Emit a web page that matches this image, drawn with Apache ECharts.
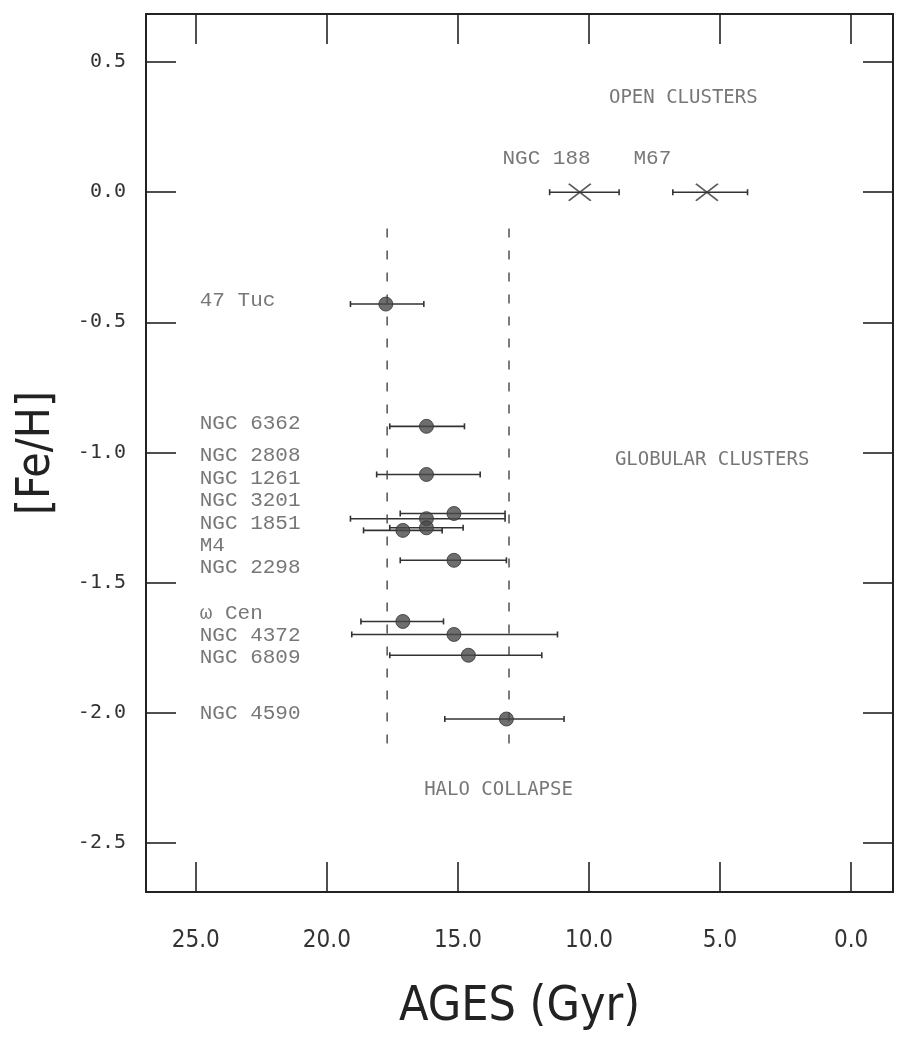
<!DOCTYPE html>
<html>
<head>
<meta charset="utf-8">
<script src="https://cdn.jsdelivr.net/npm/echarts@6/dist/echarts.min.js"></script>
<style>
  html, body { margin: 0; padding: 0; background: #fff; }
  #chart { width: 897px; height: 1049px; }
</style>
</head>
<body>
<div id="chart"></div>
<script>
// globular clusters: label, age (Gyr), [Fe/H], error bar ends
const gcNames = ['47 Tuc', 'NGC 6362', 'NGC 2808', 'NGC 1261', 'NGC 3201', 'NGC 1851', 'M4', 'NGC 2298', 'ω Cen', 'NGC 4372', 'NGC 6809', 'NGC 4590']
const gcNameY = [-0.415, -0.888, -1.012, -1.100, -1.185, -1.273, -1.358, -1.442, -1.619, -1.704, -1.788, -2.004]
const gcAge = [17.75, 16.2, 16.2, 15.15, 16.2, 16.2, 17.1, 15.15, 17.1, 15.15, 14.6, 13.15]
const gcFeH = [-0.43, -0.90, -1.085, -1.235, -1.255, -1.29, -1.30, -1.415, -1.65, -1.70, -1.78, -2.025]
const gcErrOld = [19.1, 17.6, 18.1, 17.2, 19.1, 17.6, 18.6, 17.2, 18.7, 19.05, 17.6, 15.5]
const gcErrYoung = [16.3, 14.75, 14.15, 13.2, 13.2, 14.8, 15.6, 13.15, 15.55, 11.2, 11.8, 10.95]

// open clusters
const ocNames = ['NGC 188', 'M67']
const ocAge = [10.35, 5.5]
const ocFeH = [0.0, 0.0]
const ocErrOld = [11.5, 6.8]
const ocErrYoung = [8.85, 3.95]
const ocNamePos = [[13.3, 0.13], [8.3, 0.13]]

// halo collapse band (dashed lines)
const haloAges = [17.7, 13.05]
const haloFeH = [-0.14, -2.15]

// region captions
const captions = ['OPEN CLUSTERS', 'GLOBULAR CLUSTERS', 'HALO COLLAPSE']
const captionPos = [[6.4, 0.36], [5.3, -1.03], [13.45, -2.3]]

// tick labels
const xTicks = [0, 5, 10, 15, 20, 25]
const yTicks = [0.5, 0.0, -0.5, -1.0, -1.5, -2.0, -2.5]

const ink = '#333'
const textGrey = '#555'
const tickFont = '"Liberation Sans Narrow", "DejaVu Sans Condensed", sans-serif'
const monoFont = '"Liberation Mono", "DejaVu Sans Mono", monospace'
const plotterFont = '"DejaVu Sans Mono", monospace'

const chart = echarts.init(document.getElementById('chart'))

// horizontal error bar with end caps
const errorBar = (params, api) => {
    const y = api.value(2)
    const a = api.coord([api.value(0), y])
    const b = api.coord([api.value(1), y])
    const style = { stroke: ink, lineWidth: 1.6 }
    return {
        type: 'group',
        children: [
            { type: 'line', shape: { x1: a[0], y1: a[1], x2: b[0], y2: b[1] }, style },
            { type: 'line', shape: { x1: a[0], y1: a[1] - 3, x2: a[0], y2: a[1] + 3 }, style },
            { type: 'line', shape: { x1: b[0], y1: b[1] - 3, x2: b[0], y2: b[1] + 3 }, style },
        ],
    }
}

const frameLine = { show: true, onZero: false, lineStyle: { color: '#222', width: 2 } }
const frameTick = vals => ({ inside: true, length: 30, customValues: vals, lineStyle: { color: '#222', width: 1.6 } })

const textSeries = (data, font, size, align) => ({
    type: 'scatter',
    symbolSize: 0,
    silent: true,
    data,
    label: {
        show: true,
        position: align === 'left' ? 'right' : 'inside',
        distance: 0,
        formatter: p => p.name,
        color: textGrey,
        fontFamily: font,
        fontSize: size,
        align: align,
        verticalAlign: 'middle',
    },
    z: 5,
})

chart.setOption({
    animation: false,
    grid: { left: 146, right: 4, top: 14, bottom: 157 },
    xAxis: [
        {
            type: 'value',
            position: 'bottom',
            inverse: true,
            min: -1.6,
            max: 26.9,
            name: 'AGES (Gyr)',
            nameLocation: 'middle',
            nameGap: 92,
            nameTextStyle: { fontFamily: tickFont, fontSize: 48, color: '#222' },
            axisLine: frameLine,
            axisTick: frameTick(xTicks),
            splitLine: { show: false },
            axisLabel: {
                customValues: xTicks,
                margin: 37,
                formatter: v => v.toFixed(1),
                fontFamily: tickFont,
                fontSize: 24,
                color: ink,
            },
        },
        {
            type: 'value',
            position: 'top',
            inverse: true,
            min: -1.6,
            max: 26.9,
            axisLine: frameLine,
            axisTick: frameTick(xTicks),
            splitLine: { show: false },
            axisLabel: { show: false },
        },
    ],
    yAxis: [
        {
            type: 'value',
            position: 'left',
            min: -2.69,
            max: 0.685,
            name: '[Fe/H]',
            nameLocation: 'middle',
            nameGap: 86,
            nameRotate: 90,
            nameTextStyle: { fontFamily: tickFont, fontSize: 46, color: '#222' },
            axisLine: frameLine,
            axisTick: frameTick(yTicks),
            splitLine: { show: false },
            axisLabel: {
                customValues: yTicks,
                margin: 20,
                formatter: v => v.toFixed(1),
                fontFamily: plotterFont,
                fontSize: 20,
                color: ink,
            },
        },
        {
            type: 'value',
            position: 'right',
            min: -2.69,
            max: 0.685,
            axisLine: frameLine,
            axisTick: frameTick(yTicks),
            splitLine: { show: false },
            axisLabel: { show: false },
        },
    ],
    series: [
        // halo collapse dashed lines
        ...haloAges.map(a => ({
            type: 'line',
            data: haloFeH.map(f => [a, f]),
            symbol: 'none',
            silent: true,
            lineStyle: { color: '#444', width: 1.4, type: [9, 13] },
        })),
        {
            type: 'custom',
            renderItem: errorBar,
            data: gcAge.map((_, i) => [gcErrOld[i], gcErrYoung[i], gcFeH[i]]),
            z: 3,
        },
        {
            type: 'custom',
            renderItem: errorBar,
            data: ocAge.map((_, i) => [ocErrOld[i], ocErrYoung[i], ocFeH[i]]),
            z: 3,
        },
        {
            type: 'scatter',
            data: gcAge.map((a, i) => [a, gcFeH[i]]),
            symbol: 'circle',
            symbolSize: 14,
            itemStyle: { color: '#4a4a4a', borderColor: '#333', borderWidth: 1 },
            z: 4,
        },
        {
            type: 'scatter',
            data: ocAge.map((a, i) => [a, ocFeH[i]]),
            symbol: 'path://M0,0L20,16M20,0L0,16',
            symbolSize: [22, 17],
            itemStyle: { color: 'none', borderColor: '#333', borderWidth: 1.8 },
            z: 4,
        },
        textSeries(gcNames.map((n, i) => ({ name: n, value: [24.85, gcNameY[i]] })), monoFont, 21, 'left'),
        textSeries(ocNames.map((n, i) => ({ name: n, value: ocNamePos[i] })), monoFont, 21, 'left'),
        textSeries(captions.map((n, i) => ({ name: n, value: captionPos[i] })), plotterFont, 19, 'center'),
    ],
})
</script>
</body>
</html>
